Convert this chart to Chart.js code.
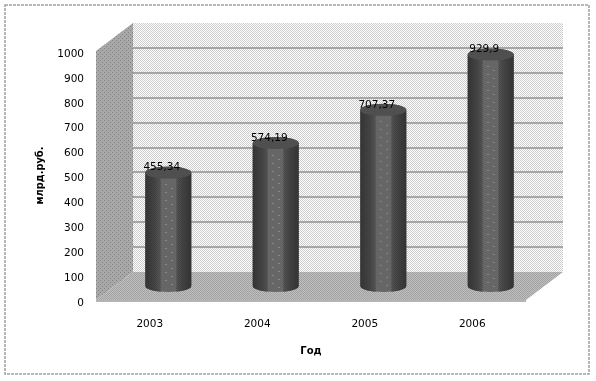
<!DOCTYPE html>
<html>
<head>
<meta charset="utf-8">
<script src="https://cdn.jsdelivr.net/npm/chart.js@4"></script>
<style>
html,body{margin:0;padding:0;background:#fff;}
canvas{display:block;}
</style>
</head>
<body>
<canvas id="grafico" width="596" height="381"></canvas>
<script>
const categories=["2003","2004","2005","2006"];
const values=[455.34,574.19,707.37,929.9];
const valueLabels=["455,34","574,19","707,37","929,9"];
const yTicks=[0,100,200,300,400,500,600,700,800,900,1000];

const FONT='"DejaVu Sans"';
const depthX=37, depthY=28;

// small tiled fills that imitate the dithered look
function pattern(size,bg,fg,cells){
    const c=document.createElement("canvas");
    c.width=c.height=size;
    const g=c.getContext("2d");
    g.fillStyle=bg;
    g.fillRect(0,0,size,size);
    g.fillStyle=fg;
    cells.forEach(p=>g.fillRect(p[0],p[1],1,1));
    return g.createPattern(c,"repeat");
}

function poly(ctx,pts,fill){
    ctx.beginPath();
    pts.forEach((p,i)=>i?ctx.lineTo(p[0],p[1]):ctx.moveTo(p[0],p[1]));
    ctx.closePath();
    ctx.fillStyle=fill;
    ctx.fill();
}

const walls={
    id:"walls",
    beforeDraw(chart){
        const ctx=chart.ctx;
        ctx.save();
        ctx.strokeStyle="#a0a0a0";
        ctx.lineWidth=1.5;
        ctx.setLineDash([3,1]);
        ctx.strokeRect(5,5,584,369);
        ctx.restore();
    },
    beforeDatasetsDraw(chart){
        const ctx=chart.ctx, a=chart.chartArea, y=chart.scales.y;
        const l=a.left, r=a.right, t=a.top, b=a.bottom;
        ctx.save();
        poly(ctx,[[l+depthX,t-depthY],[r+depthX,t-depthY],[r+depthX,b-depthY],[l+depthX,b-depthY]],
            pattern(2,"#ffffff","#cccccc",[[0,0],[1,1]]));
        poly(ctx,[[l,t],[l+depthX,t-depthY],[l+depthX,b-depthY],[l,b]],
            pattern(4,"#a8a8a8","#808080",[[0,0],[2,2]]));
        poly(ctx,[[l,b],[l+depthX,b-depthY],[r+depthX,b-depthY],[r,b]],
            pattern(2,"#c0c0c0","#a0a0a0",[[0,0],[1,1]]));
        // grid lines on the back wall, from the value scale
        ctx.strokeStyle="#a6a6a6";
        ctx.lineWidth=2;
        yTicks.slice(1,-1).forEach(v=>{
            const py=Math.round(y.getPixelForValue(v))-depthY;
            ctx.beginPath();
            ctx.moveTo(l+depthX,py);
            ctx.lineTo(r+depthX,py);
            ctx.stroke();
        });
        ctx.strokeStyle="#b4b4b4";
        ctx.beginPath();
        ctx.moveTo(l,b+1);
        ctx.lineTo(r,b+1);
        ctx.stroke();
        ctx.restore();
    },
    beforeDatasetDraw(chart){
        // bars stand in the middle of the floor depth
        chart.ctx.save();
        chart.ctx.translate(depthX/2,-depthY/2);
    },
    afterDatasetDraw(chart,args){
        const ctx=chart.ctx;
        args.meta.data.forEach(bar=>{
            const rx=bar.width/2, ry=6;
            const x0=Math.round(bar.x-rx), x1=Math.round(bar.x+rx);
            ctx.save();
            ctx.beginPath();
            ctx.rect(bar.x-rx,bar.y,bar.width,bar.base-bar.y);
            ctx.ellipse(bar.x,bar.base,rx,ry,0,0,Math.PI*2);
            ctx.fillStyle="#666666";
            ctx.fill();
            ctx.clip();
            // shaded edges, checker dots getting darker to the sides
            for(let px=x0;px<x1;px++){
                const k=Math.abs(px+0.5-bar.x)/rx;
                if(k<0.35) continue;
                const shade=Math.round(0x5c-(k-0.35)*70);
                ctx.fillStyle=`rgb(${shade},${shade},${shade})`;
                ctx.fillRect(px,bar.y,1,bar.base-bar.y+ry+1);
                const dot=Math.max(0x2c,shade-30);
                ctx.fillStyle=`rgb(${dot},${dot},${dot})`;
                for(let py=Math.floor(bar.y);py<bar.base+ry+1;py++){
                    if((px+py)%2===0) ctx.fillRect(px,py,1,1);
                }
            }
            ctx.fillStyle="#a8a8a8";
            for(let py=Math.floor(bar.y)+12;py<bar.base;py+=8){
                ctx.fillRect(Math.round(bar.x)-3,py,1,1);
                ctx.fillRect(Math.round(bar.x)+3,py+4,1,1);
            }
            ctx.restore();
            // top cap
            ctx.save();
            ctx.beginPath();
            ctx.ellipse(bar.x,bar.y,rx,ry,0,0,Math.PI*2);
            ctx.fillStyle="#555555";
            ctx.fill();
            ctx.clip();
            ctx.fillStyle=pattern(2,"#5e5e5e","#404040",[[0,0],[1,1]]);
            ctx.fillRect(bar.x-rx,bar.y-ry,bar.width,ry*2);
            ctx.restore();
        });
        ctx.restore();
        // value labels sit above the caps, slightly left
        ctx.save();
        ctx.font="10.5px "+FONT;
        ctx.fillStyle="#000";
        ctx.textAlign="center";
        ctx.textBaseline="middle";
        args.meta.data.forEach((bar,i)=>{
            ctx.fillText(valueLabels[i],bar.x+depthX/2-6.5,bar.y-depthY/2-5);
        });
        ctx.restore();
    }
};

new Chart(document.getElementById("grafico"),{
    type:"bar",
    plugins:[walls],
    data:{
        labels:categories,
        datasets:[{
            data:values,
            backgroundColor:"#666666",
            barPercentage:0.428,
            categoryPercentage:1
        }]
    },
    options:{
        responsive:false,
        animation:false,
        layout:{padding:{top:51,right:70,left:0,bottom:0}},
        plugins:{legend:{display:false},tooltip:{enabled:false}},
        scales:{
            x:{
                afterFit:s=>{s.height=81;},
                grid:{display:false},
                border:{display:false},
                ticks:{color:"#000",padding:10,maxRotation:0,font:{family:FONT,size:10.5}},
                title:{display:true,text:"Год",color:"#000",
                    font:{family:FONT,size:10,weight:"bold"},padding:{top:0,bottom:24}}
            },
            y:{
                min:0,
                max:1000,
                afterFit:s=>{s.width=96;},
                afterBuildTicks:s=>{s.ticks=yTicks.map(v=>({value:v}));},
                grid:{display:false},
                border:{display:false},
                ticks:{color:"#000",padding:4,labelOffset:3,callback:v=>String(v),font:{family:FONT,size:10.5}},
                title:{display:true,text:"млрд.руб.",color:"#000",
                    font:{family:FONT,size:9.8,weight:"bold"},padding:{top:35,bottom:0}}
            }
        }
    }
});
</script>
</body>
</html>
